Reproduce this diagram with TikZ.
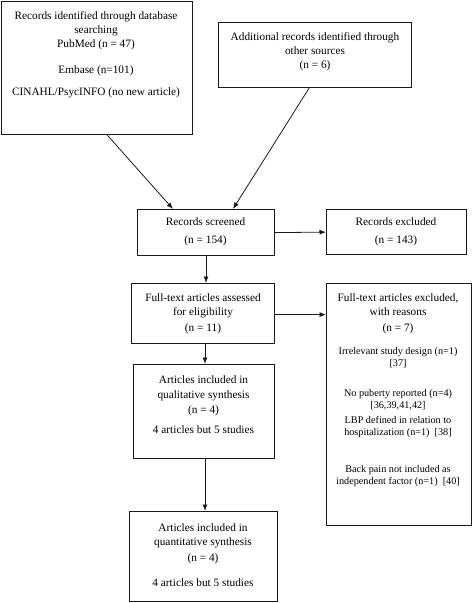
\documentclass[tikz,border=0pt]{standalone}
\usepackage{fontspec}
\setmainfont{Liberation Serif}
\usetikzlibrary{arrows.meta}
\definecolor{vframe}{HTML}{1a1a1a}

\tikzset{
  box/.style={draw=vframe, line width=1.2pt, inner sep=0pt, anchor=north west},
  txt/.style={align=center, inner sep=0pt, font=\fontsize{11.3}{14}\selectfont},
  reason/.style={align=center, inner sep=0pt, font=\fontsize{10.2}{12}\selectfont},
  arr/.style={-{Latex[length=6.5pt,width=5pt]}, line width=0.8pt, color=vframe}
}

\begin{document}
\begin{tikzpicture}[x=1pt, y=-1pt]
		\useasboundingbox (0,0) rectangle (473,603);
		% boxes
		\node[box, minimum width=191pt, minimum height=133pt] (ident) at (1,0.6) {};
		\node[box, minimum width=193pt, minimum height=65pt] (other) at (218,22) {};
		\node[box, minimum width=137pt, minimum height=46pt] (screen) at (137,209) {};
		\node[box, minimum width=140pt, minimum height=45pt] (excl) at (326,209) {};
		\node[box, minimum width=143pt, minimum height=60pt] (assess) at (131,283) {};
		\node[box, minimum width=145pt, minimum height=242pt] (fullexcl) at (326,283) {};
		\node[box, minimum width=141pt, minimum height=94pt] (qual) at (133,364) {};
		\node[box, minimum width=148pt, minimum height=90pt] (quant) at (129,511) {};
		% texts
		\node[txt] (identtxt) at (96,55) {Records identified through database\\ searching\\ PubMed (n = 47)\\[12pt] Embase (n=101)\\[8pt] CINAHL/PsycINFO (no new article)};
		\node[txt] (othertxt) at (315,52) {Additional records identified through\\ other sources\\ (n = 6)};
		\node[txt] (screentxt) at (205.5,232) {Records screened\\[4pt] (n = 154)};
		\node[txt] (excltxt) at (396,232) {Records excluded\\[4pt] (n = 143)};
		\node[txt] (assesstxt) at (203,314) {Full-text articles assessed\\ for eligibility\\[2pt] (n = 11)};
		\node[txt] (fullexcltxt) at (398,314) {Full-text articles excluded,\\ with reasons\\[2pt] (n = 7)};
		\node[reason] (reason1) at (398,358) {Irrelevant study design (n=1)\\ {[37]}};
		\node[reason] (reason2) at (398,400) {No puberty reported (n=4)\\ {[36,39,41,42]}};
		\node[reason] (reason3) at (398,427) {LBP defined in relation to\\ hospitalization (n=1)\ \ [38]};
		\node[reason] (reason4) at (398,476) {Back pain not included as\\ independent factor (n=1)\ \ [40]};
		\node[txt] (qualtxt) at (203.5,405) {Articles included in\\[1pt] qualitative synthesis\\[1pt] (n = 4)\\[6pt] 4 articles but 5 studies};
		\node[txt] (quanttxt) at (203,555.5) {Articles included in\\ quantitative synthesis\\[2pt] (n = 4)\\[11pt] 4 articles but 5 studies};
		% connectors
		\draw[arr] ([xshift=106pt]ident.south west) -- ([xshift=36pt]screen.north west);
		\draw[arr] ([xshift=91pt]other.south west) -- ([xshift=96pt]screen.north west);
		\draw[arr] (screen.east) -- (excl.west);
		\draw[arr] ([xshift=69pt]screen.south west) -- ([xshift=75pt]assess.north west);
		\draw[arr] ([yshift=-1pt]assess.east) -- ([yshift=-1pt]assess.east -| fullexcl.west);
		\draw[arr] ([xshift=74pt]assess.south west) -- ([xshift=72pt]qual.north west);
		\draw[arr] ([xshift=72pt]qual.south west) -- ([xshift=76pt]quant.north west);
	\end{tikzpicture}
\end{document}
